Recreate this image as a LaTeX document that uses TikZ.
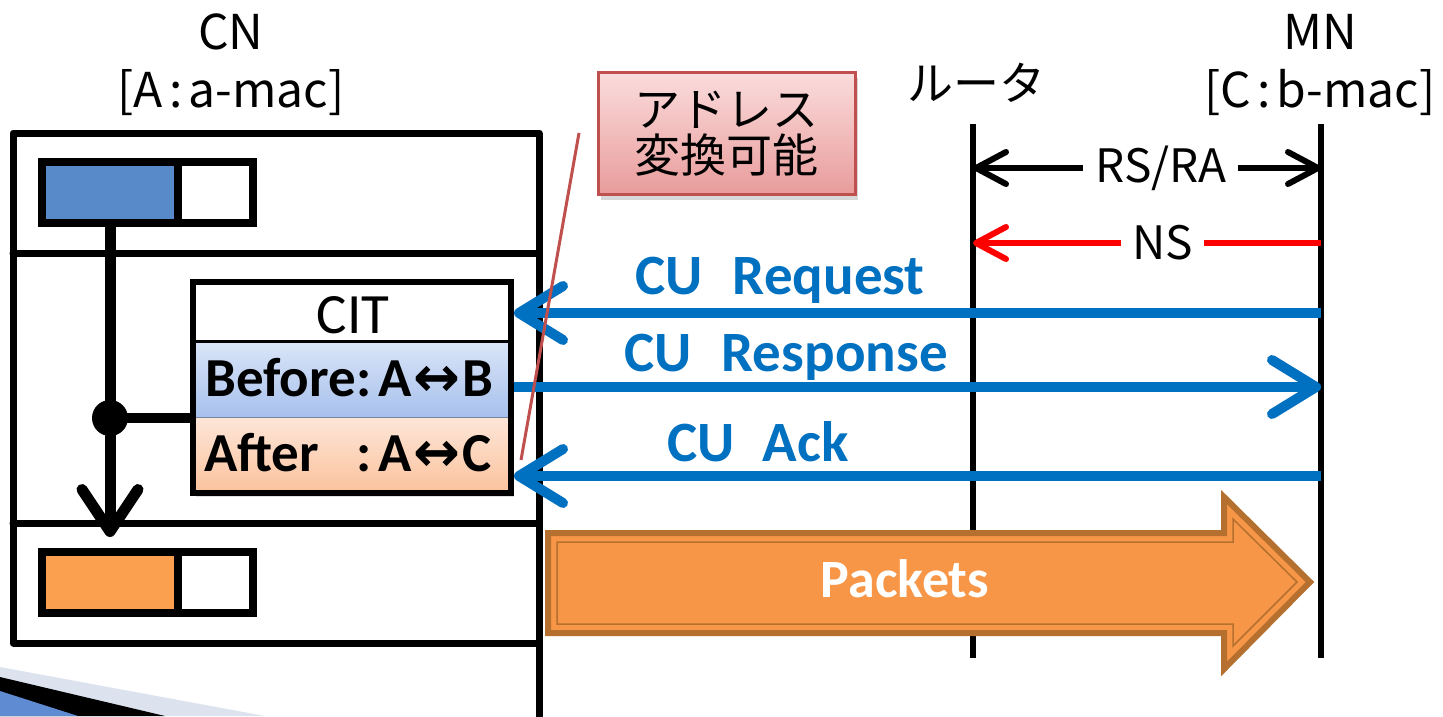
\documentclass[tikz,border=0pt]{standalone}
\usepackage{fontspec}
\newfontfamily\jpf{Noto Sans CJK JP}
\newfontfamily\calib{Carlito}
\newfontfamily\djv{DejaVu Sans}
\usetikzlibrary{arrows.meta,shadows,calc}
\newcommand\fsz[1]{\fontsize{#1}{#1}\selectfont}
\newcommand\lrarrow{{\djv\fsz{56}↔}}
\definecolor{cublue}{HTML}{0070C0}
\definecolor{calred}{HTML}{C0504D}
\definecolor{calltop}{HTML}{FBDCDC}
\definecolor{callbot}{HTML}{E89C9B}
\definecolor{beftop}{HTML}{DAE5F8}
\definecolor{befbot}{HTML}{A7C0EC}
\definecolor{afttop}{HTML}{FDE6D8}
\definecolor{aftbot}{HTML}{FBC39E}
\definecolor{addrblue}{HTML}{588ACA}
\definecolor{addrorange}{HTML}{FBA04F}
\definecolor{pktfill}{HTML}{F79646}
\definecolor{pktdraw}{HTML}{B5702F}
\definecolor{decogray}{HTML}{DCE3EF}
\definecolor{decoblue}{HTML}{5E8BD1}
\definecolor{nsred}{HTML}{FF0000}
\begin{document}
\begin{tikzpicture}[x=1pt,y=-1pt,
  jpl/.style={font=\jpf\fsz{46}, inner sep=0pt},
  hdl/.style={font=\jpf\fsz{48}, inner sep=0pt, anchor=base},
  cul/.style={font=\calib\bfseries\fsz{57}, text=cublue, inner sep=0pt, anchor=base},
  boxline/.style={line width=7pt, line join=round, line cap=round},
  lifeline/.style={line width=6pt},
  bluemsg/.style={line width=10pt, draw=cublue, -{Straight Barb[length=44pt,width=54pt,round]}},
  blackmsg/.style={line width=6pt, draw=black, {Straight Barb[length=30pt,width=32pt,round]}-{Straight Barb[length=30pt,width=32pt,round]}},
  redmsg/.style={line width=6pt, draw=nsred, -{Straight Barb[length=30pt,width=32pt,round]}},
  addrbox/.style={draw, line width=8pt, inner sep=0pt, minimum height=61pt},
  row/.style={inner sep=0pt, minimum width=312pt},
  rowtext/.style={font=\calib\bfseries\fsz{55}, inner sep=0pt, anchor=base west},
]
\useasboundingbox (0,0) rectangle (1443,716);
\fill[white] (0,0) rectangle (1443,716);

% slide decoration, bottom left
\fill[decogray] (0,667) -- (265,716) -- (0,716) -- cycle;
\fill[black] (0,677) -- (165,716) -- (0,716) -- cycle;
\fill[decoblue] (0,691) -- (78,716) -- (0,716) -- cycle;

% headers
\node[hdl] (cn) at (231,49) {CN};
\node[hdl] (cnaddr) at (231,107) {[A\hspace{6pt}:\hspace{6pt}a-mac]};
\node[jpl] (router) at (976,83) {ルータ};
\node[hdl] (mn) at (1320,49) {MN};
\node[hdl] (mnaddr) at (1320,107) {[C\hspace{6pt}:\hspace{6pt}b-mac]};

% CN box
\draw[boxline] (539,716) -- (539,133) -- (13,133) -- (13,643) -- (539,643);
\draw[boxline] (13,253) -- (539,253);
\draw[boxline] (13,523) -- (539,523);

% address boxes
\node[addrbox, fill=addrblue, minimum width=136pt] (tb) at (110,192.5) {};
\node[addrbox, fill=white, minimum width=75pt] (tw) at (215.5,192.5) {};
\node[addrbox, fill=addrorange, minimum width=136pt] (bb) at (110,582.5) {};
\node[addrbox, fill=white, minimum width=75pt] (bw) at (215.5,582.5) {};

% CIT table
\node[draw, line width=6pt, fill=white, minimum width=318pt, minimum height=211pt, inner sep=0pt,
      drop shadow={opacity=0.25, shadow xshift=3pt, shadow yshift=-4pt}] (cit) at (352,387.5) {};
\node[row, minimum height=59pt] (cithead) at (352,312) {};
\node[row, minimum height=76pt, top color=beftop, bottom color=befbot] (before) at (352,379.5) {};
\node[row, minimum height=73pt, top color=afttop, bottom color=aftbot] (after) at (352,454) {};
\draw[line width=3pt] (before.north west) -- (before.north east);
\draw[line width=1pt, draw=befbot!70!black] (after.north west) -- (after.north east);
\node[font=\calib\fsz{57}, inner sep=0pt, anchor=base] (citlabel) at (353,333) {CIT};
\node[rowtext] (beflabel) at (205,396) {Before};
\node[rowtext] (befval) at (356,396) {:\hspace{7pt}A\hspace{2pt}\lrarrow\hspace{2pt}B};
\node[rowtext] (aftlabel) at (204,471) {After};
\node[rowtext] (aftval) at (356,471) {:\hspace{7pt}A\hspace{2pt}\lrarrow\hspace{2pt}C};

% redraw CIT border on top of rows
\draw[line width=6pt] (cit.north west) ++(3,3) rectangle ($(cit.south east)+(-3,-3)$);

% address flow in CN
\node[circle, fill=black, minimum size=36pt, inner sep=0pt] (dot) at (110,418) {};
\draw[line width=11pt, -{Straight Barb[length=42pt,width=56pt,round]}, shorten >=11pt] (tb.south) -- (bb.north);
\draw[line width=10pt] (dot.center) -- (dot -| cit.west);

% lifelines
\coordinate (rtTop) at (973,124);
\coordinate (rtBot) at (973,658);
\coordinate (mnTop) at (1321,124);
\coordinate (mnBot) at (1321,658);
\draw[lifeline] (rtTop) -- (rtBot);
\draw[lifeline] (mnTop) -- (mnBot);

% RS/RA and NS
\coordinate (rsL) at (973,168);
\coordinate (rsR) at (1321,168);
\draw[blackmsg] (rsL) -- node[pos=0.54, fill=white, jpl, inner xsep=12pt, inner ysep=4pt] (rslabel) {RS/RA} (rsR);
\coordinate (nsR) at (1321,243);
\coordinate (nsL) at (973,243);
\draw[redmsg] (nsR) -- node[pos=0.455, fill=white, jpl, inner xsep=11pt, inner ysep=4pt] (nslabel) {NS} (nsL);

% CU messages
\coordinate (reqR) at (1321,313);
\coordinate (resR) at (1321,387);
\coordinate (ackR) at (1321,476);
\draw[bluemsg] (reqR) -- (reqR -| cit.east);
\draw[bluemsg] (resR -| cit.east) -- (resR);
\draw[bluemsg] (ackR) -- (ackR -| cit.east);
\node[cul] (reqlabel) at (780,294) {CU\hspace{30pt}Request};
\node[cul] (reslabel) at (786,371) {CU\hspace{30pt}Response};
\node[cul] (acklabel) at (758,461) {CU\hspace{28pt}Ack};

% callout
\node[draw=calred, line width=3pt, top color=calltop, bottom color=callbot,
      minimum width=257pt, minimum height=122pt, inner sep=0pt,
      drop shadow={opacity=0.3, shadow xshift=3pt, shadow yshift=-5pt},
      font=\jpf\fsz{46}, align=center] (call) at (726.5,133.5) {\fontsize{46}{58}\selectfont アドレス\\変換可能};
\coordinate (cl1) at (579,133);
\coordinate (cl2) at (521,460);
\draw[calred, line width=3pt] (cl1) -- (cl2);

% Packets arrow
\filldraw[fill=pktfill, draw=pktdraw, line width=6pt, line join=miter]
  (548,533) -- (1224,533) -- (1224,497) -- (1310,582) -- (1224,669) -- (1224,633) -- (548,633) -- cycle;
\draw[pktdraw, line width=1.5pt, line join=miter]
  (557,542) -- (1233,542) -- (1233,519) -- (1297,582) -- (1233,646) -- (1233,624) -- (557,624) -- cycle;
\node[font=\calib\bfseries\fsz{54}, text=white, inner sep=0pt, anchor=base] (pkt) at (905,597) {Packets};
\end{tikzpicture}
\end{document}
